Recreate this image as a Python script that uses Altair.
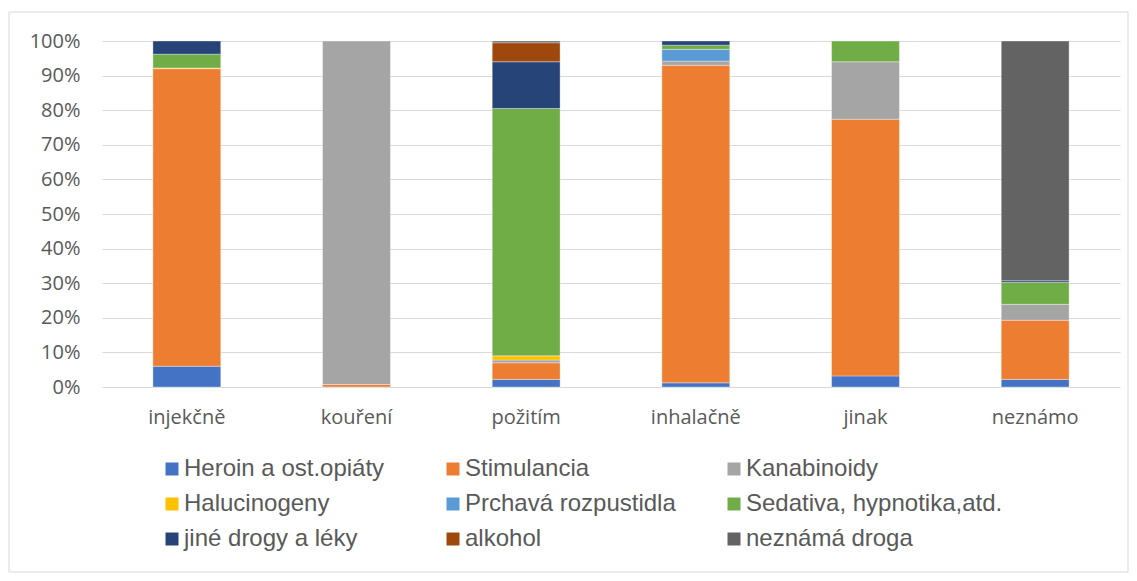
import altair as alt
import pandas as pd

categories = ["injekčně", "kouření", "požitím", "inhalačně", "jinak", "neznámo"]
series = ["Heroin a ost.opiáty", "Stimulancia", "Kanabinoidy", "Halucinogeny",
          "Prchavá rozpustidla", "Sedativa, hypnotika,atd.", "jiné drogy a léky",
          "alkohol", "neznámá droga"]
colors = ["#4472C4", "#ED7D31", "#A5A5A5", "#FFC000", "#5B9BD5", "#70AD47",
          "#264478", "#9E480E", "#636363"]

heroin = [6.0, 0.0, 2.2, 1.2, 3.2, 2.2]
stimulancia = [86.0, 0.7, 4.8, 91.8, 74.2, 17.1]
kanabinoidy = [0.0, 99.3, 0.8, 1.2, 16.6, 4.6]
halucinogeny = [0.2, 0.0, 1.2, 0.0, 0.0, 0.0]
prchava = [0.0, 0.0, 0.0, 3.4, 0.0, 0.0]
sedativa = [4.0, 0.0, 71.5, 1.2, 6.0, 6.3]
jine = [3.8, 0.0, 13.5, 1.2, 0.0, 0.5]
alkohol = [0.0, 0.0, 5.5, 0.0, 0.0, 0.0]
neznama = [0.0, 0.0, 0.5, 0.0, 0.0, 69.3]

y_ticks = [0, 0.1, 0.2, 0.3, 0.4, 0.5, 0.6, 0.7, 0.8, 0.9, 1.0]

values = [heroin, stimulancia, kanabinoidy, halucinogeny, prchava, sedativa,
          jine, alkohol, neznama]
rows = []
for i, (s, vals) in enumerate(zip(series, values)):
    for c, v in zip(categories, vals):
        if v > 0:
            rows.append({"kat": c, "serie": s, "val": v, "idx": i})
df = pd.DataFrame(rows)

grey = "#595959"

bars = alt.Chart(df).mark_bar(stroke="white", strokeWidth=0.5, strokeOpacity=0.7).encode(
    x=alt.X("kat:N", sort=categories,
            scale=alt.Scale(paddingInner=0.6, paddingOuter=0.3),
            axis=alt.Axis(title=None, labelAngle=0, ticks=False, tickSize=0,
                          domain=False, grid=False, labelPadding=20,
                          labelFont="Open Sans", labelFontSize=20,
                          labelColor=grey)),
    y=alt.Y("val:Q", stack="normalize", scale=alt.Scale(domain=[0, 1]),
            axis=alt.Axis(title=None, values=y_ticks, format=".0%", grid=True,
                          gridColor="#D9D9D9", gridWidth=1, domain=False,
                          ticks=False, tickSize=0, labelPadding=22,
                          labelFont="Open Sans", labelFontSize=20,
                          labelColor=grey)),
    color=alt.Color("serie:N", sort=series,
                    scale=alt.Scale(domain=series, range=colors),
                    legend=alt.Legend(title=None, orient="none", legendX=58,
                                      legendY=416, columns=3,
                                      direction="horizontal",
                                      symbolType="square", symbolSize=169,
                                      symbolStrokeWidth=0,
                                      labelFont="Liberation Sans",
                                      labelFontSize=24, labelColor=grey,
                                      labelOffset=0, columnPadding=-1,
                                      rowPadding=11, gridAlign="all",
                                      labelLimit=400)),
    order=alt.Order("idx:Q", sort="ascending"),
)

frame = alt.Chart(alt.Data(values=[{"a": 1}])).mark_rect(
    fillOpacity=0, stroke="#D9D9D9", strokeWidth=1
).encode(x=alt.value(-93), x2=alt.value(1026), y=alt.value(-29), y2=alt.value(531))

chart = alt.layer(frame, bars).properties(
    width=1018, height=346, autosize="none",
    padding={"left": 94, "top": 33, "right": 9, "bottom": 186},
).configure_view(stroke=None)

chart.save("out.html", embed_options={"renderer": "svg", "actions": False})
